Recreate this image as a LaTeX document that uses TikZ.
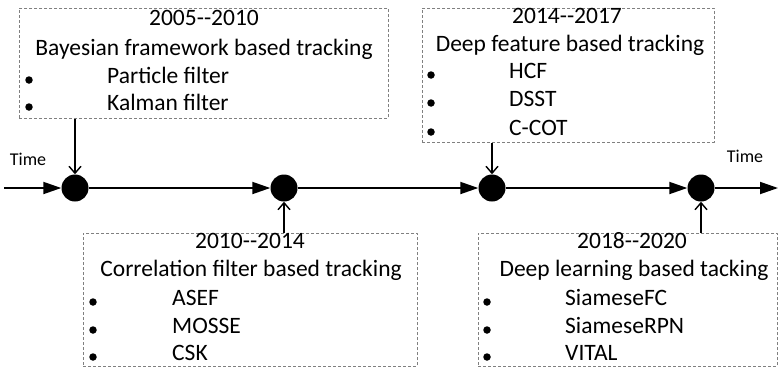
\documentclass[tikz,border=0pt]{standalone}
\usepackage{fontspec}
\setmainfont{Carlito}
\usetikzlibrary{arrows.meta}
\begin{document}
\begin{tikzpicture}[x=1pt,y=-1pt,line join=round,
	era/.style={draw=gray,densely dashed,line width=.6pt,inner sep=0pt,anchor=north west},
	txt/.style={font=\fontsize{23.5}{27}\selectfont,inner sep=0pt,anchor=mid,yshift=-1.5pt},
	item/.style={txt,anchor=mid west},
	bul/.style={circle,fill,inner sep=0pt,minimum size=7.5pt},
	event/.style={circle,fill,inner sep=0pt,minimum size=27pt},
	tline/.style={line width=1.8pt,-{Triangle[length=18pt,width=12pt]}},
	link/.style={line width=1.4pt,-{Straight Barb[length=7pt,width=12pt]}}]
	\useasboundingbox (0,0) rectangle (778,367);
	% boxes
	\node[era,minimum width=369pt,minimum height=110pt] (bayes) at (19,8) {};
	\node[era,minimum width=292pt,minimum height=134pt] (deepfeat) at (422,8) {};
	\node[era,minimum width=334pt,minimum height=133pt] (corr) at (83,233) {};
	\node[era,minimum width=299pt,minimum height=133pt] (deeplearn) at (478,233) {};
	% texts
	\node[txt] (bayes-y) at (204,22) {2005-{}-2010};
	\node[txt] (bayes-t) at (204,52) {Bayesian framework based tracking};
	\node[item] (bayes-a) at (107,80) {Particle filter};
	\node[item] (bayes-b) at (107,107) {Kalman filter};
	\foreach \y [count=\i] in {80,107} \node[bul] (bayes-d\i) at (29,\y) {};
	\node[txt] (deepfeat-y) at (567,20) {2014-{}-2017};
	\node[txt] (deepfeat-t) at (570,48) {Deep feature based tracking};
	\node[item] (deepfeat-a) at (509,75) {HCF};
	\node[item] (deepfeat-b) at (509,103) {DSST};
	\node[item] (deepfeat-c) at (509,132) {C-COT};
	\foreach \y [count=\i] in {75,103,132} \node[bul] (deepfeat-d\i) at (431,\y) {};
	\node[txt] (corr-y) at (250,245) {2010-{}-2014};
	\node[txt] (corr-t) at (251,273) {Correlation filter based tracking};
	\node[item] (corr-a) at (172,302) {ASEF};
	\node[item] (corr-b) at (172,330) {MOSSE};
	\node[item] (corr-c) at (172,357) {CSK};
	\foreach \y [count=\i] in {302,330,357} \node[bul] (corr-d\i) at (93,\y) {};
	\node[txt] (deeplearn-y) at (632,245) {2018-{}-2020};
	\node[txt] (deeplearn-t) at (634,273) {Deep learning based tacking};
	\node[item] (deeplearn-a) at (565,302) {SiameseFC};
	\node[item] (deeplearn-b) at (565,330) {SiameseRPN};
	\node[item] (deeplearn-c) at (565,357) {VITAL};
	\foreach \y [count=\i] in {302,330,357} \node[bul] (deeplearn-d\i) at (487,\y) {};
	% time line
	\node[event] (t1) at (75,188) {};
	\node[event] (t2) at (284,188) {};
	\node[event] (t3) at (492,188) {};
	\node[event] (t4) at (701,188) {};
	\coordinate (start) at (4,188);
	\coordinate (end) at (778,188);
	\draw[tline] (start)--(t1);
	\draw[tline] (t1)--(t2);
	\draw[tline] (t2)--(t3);
	\draw[tline] (t3)--(t4);
	\draw[tline] (t4)--(end);
	\node[txt,font=\fontsize{18}{21}\selectfont] (time-l) at (28,162) {Time};
	\node[txt,font=\fontsize{18}{21}\selectfont] (time-r) at (745,159) {Time};
	% links
	\draw[link] (bayes.south -| t1)--(t1);
	\draw[link] (deepfeat.south -| t3)--(t3);
	\draw[link] (corr.north -| t2)--(t2);
	\draw[link] (deeplearn.north -| t4)--(t4);
\end{tikzpicture}
\end{document}
